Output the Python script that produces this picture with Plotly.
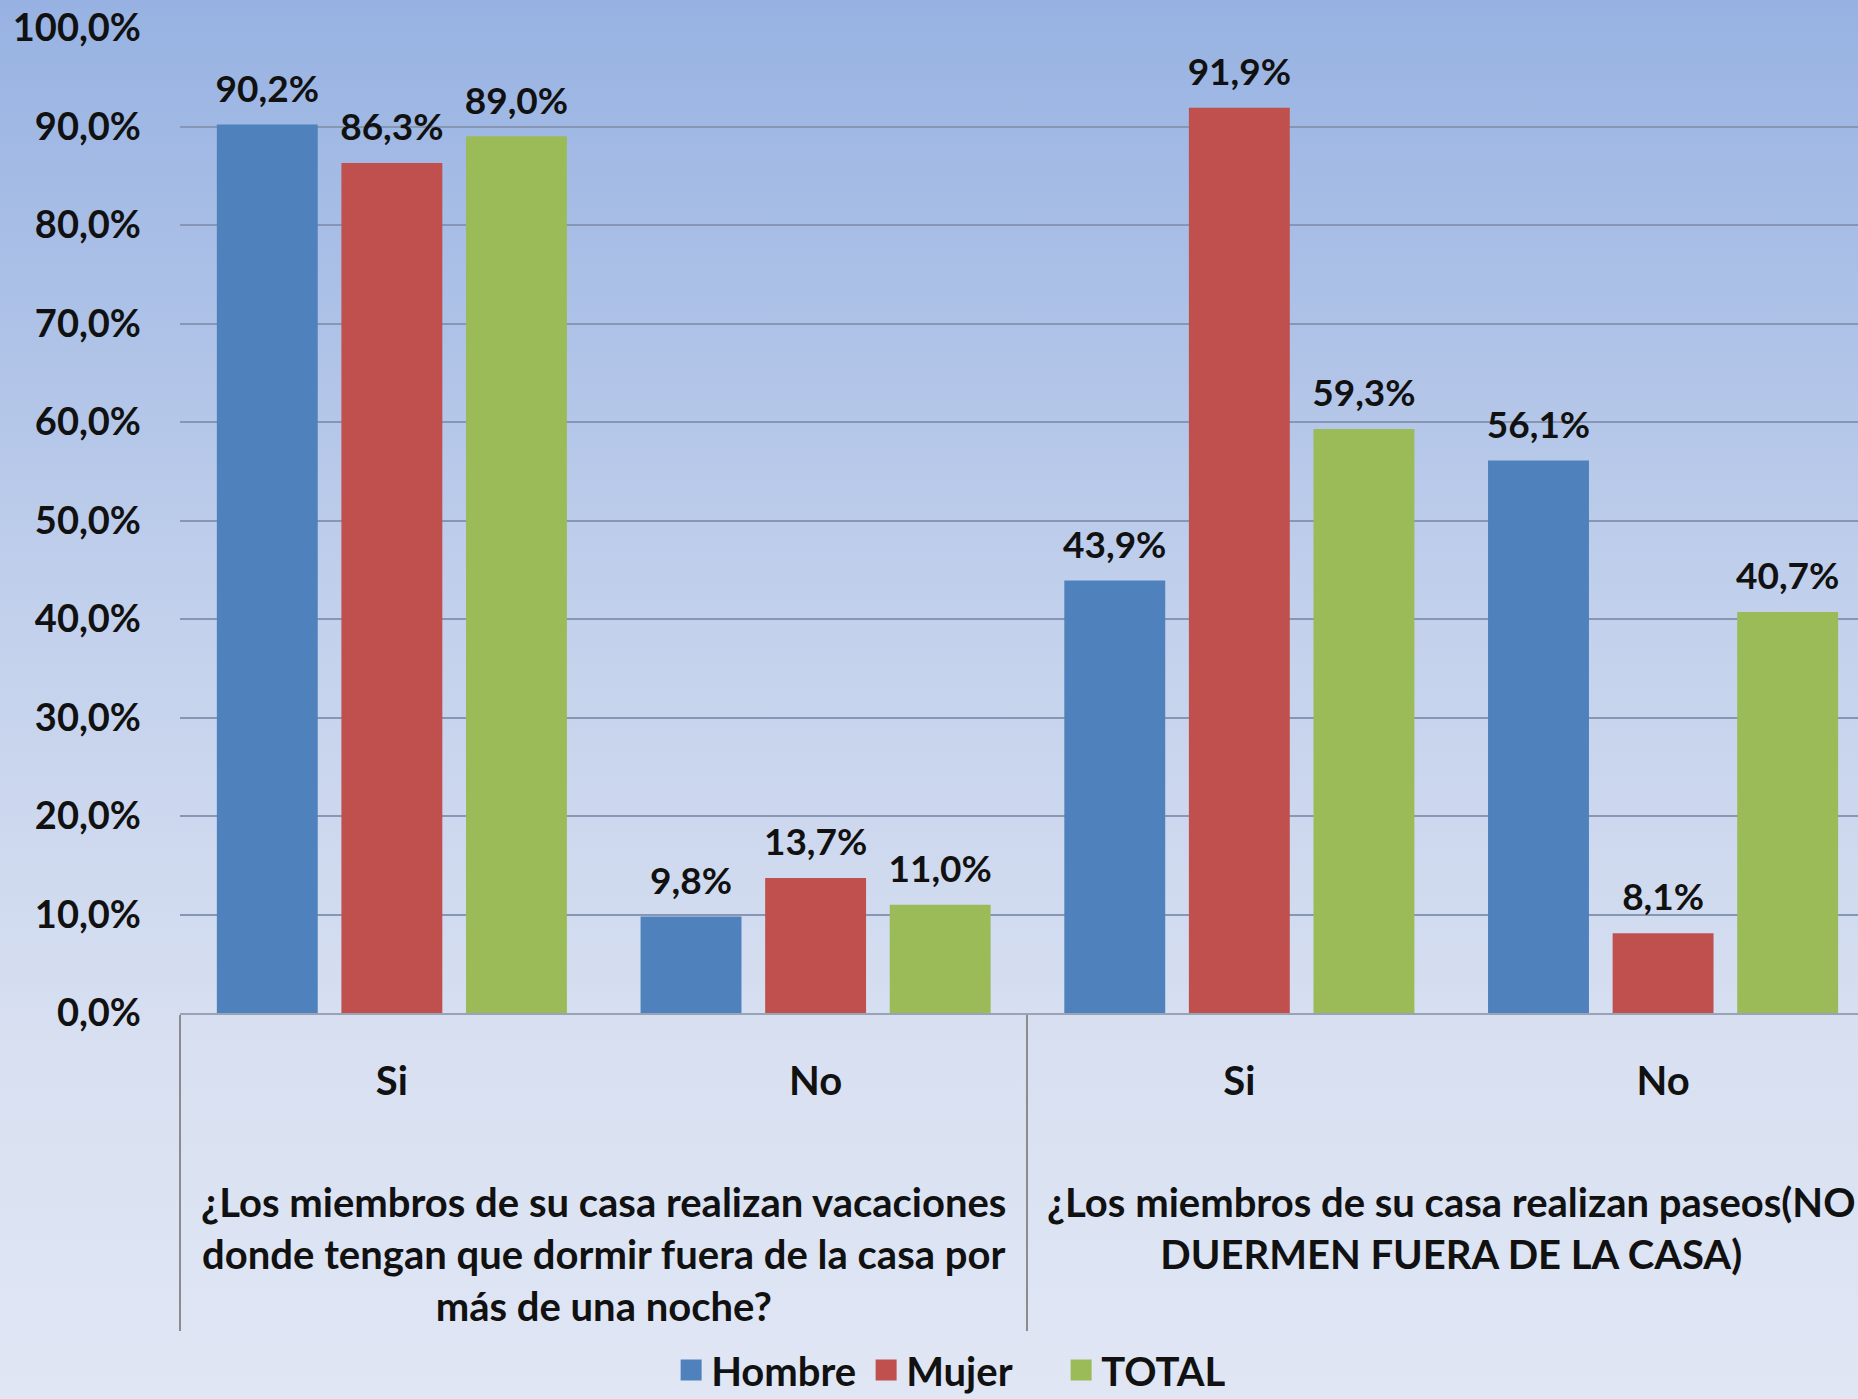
import base64
import plotly.graph_objects as go

questions = [
    "¿Los miembros de su casa realizan vacaciones<br>donde tengan que dormir fuera de la casa por<br>más de una noche?",
    "¿Los miembros de su casa realizan paseos(NO<br>DUERMEN FUERA DE LA CASA)",
]
answers = ["Si", "No"]
series_names = ["Hombre", "Mujer", "TOTAL"]
hombre = [90.2, 9.8, 43.9, 56.1]
mujer = [86.3, 13.7, 91.9, 8.1]
total = [89.0, 11.0, 59.3, 40.7]
colors = ["#4f81bd", "#c0504d", "#9bbb59"]

BLANK = "\u2800"  # blank spacer lines between the two label levels
x_level0 = [BLANK + "<br>" + BLANK + "<br>" + q for q in questions for _ in answers]
x_level1 = [a for _ in questions for a in answers]

W, H = 1858, 1399
ML, MR, MT, MB = 180, 0, 28, 386
FONT = "Lato, 'Open Sans', sans-serif"
TXT = dict(family=FONT, size=37, color="#111111", weight=700)
XTXT = dict(family=FONT, size=40, color="#111111", weight=700)
YTXT = dict(family=FONT, size=38, color="#111111", weight=700)

fig = go.Figure()
for name, vals, col in zip(series_names, [hombre, mujer, total], colors):
    fig.add_trace(go.Bar(
        name=name, x=[x_level0, x_level1], y=vals, offsetgroup=name,
        marker=dict(color=col, line=dict(width=0)),
        showlegend=False, hoverinfo="y",
    ))
for name, vals, col in zip(series_names, [hombre, mujer, total], colors):
    # value labels above the bars
    fig.add_trace(go.Scatter(
        name=name, x=[x_level0, x_level1], y=vals, offsetgroup=name,
        mode="markers+text", texttemplate="%{y:.1f}%", textposition="top center",
        textfont=TXT, marker=dict(size=20, color="rgba(0,0,0,0)"),
        showlegend=False, hoverinfo="skip", cliponaxis=False,
    ))
for name, col in zip(series_names, colors):
    # legend entries
    fig.add_trace(go.Scatter(
        name=name, x=[x_level0, x_level1], y=[None] * len(x_level1), offsetgroup=name,
        mode="markers", marker=dict(symbol="square", size=24, color=col,
                                    line=dict(color=col, width=5)),
        showlegend=True, hoverinfo="skip",
    ))

svg = ('<svg xmlns="http://www.w3.org/2000/svg" width="10" height="1000" preserveAspectRatio="none">'
       '<defs><linearGradient id="g" x1="0" y1="0" x2="0" y2="1">'
       '<stop offset="0" stop-color="#97b2e2"/>'
       '<stop offset="0.45" stop-color="#c3d1ec"/>'
       '<stop offset="0.75" stop-color="#d8e0f1"/>'
       '<stop offset="1" stop-color="#e0e6f4"/>'
       '</linearGradient></defs><rect width="10" height="1000" fill="url(#g)"/></svg>')
src = "data:image/svg+xml;base64," + base64.b64encode(svg.encode()).decode()
pw, ph = W - ML - MR, H - MT - MB

fig.update_layout(
    width=W, height=H,
    margin=dict(l=ML, r=MR, t=MT, b=MB, pad=0, autoexpand=False),
    separators=",.",
    paper_bgcolor="#e2e8f4",
    plot_bgcolor="rgba(0,0,0,0)",
    barmode="group", bargap=0.118, bargroupgap=0.19,
    scattermode="group", scattergap=0.118,
    font=TXT,
    showlegend=True,
    legend=dict(orientation="h", x=0.467, xanchor="center",
                yref="container", y=(H - 1370) / H, yanchor="middle",
                font=XTXT, bgcolor="rgba(0,0,0,0)", itemwidth=30, traceorder="normal",
                itemsizing="trace", entrywidth=150, entrywidthmode="pixels"),
    images=[dict(source=src, xref="paper", yref="paper",
                 x=-ML / pw, y=1 + MT / ph, sizex=W / pw, sizey=H / ph,
                 xanchor="left", yanchor="top", sizing="stretch", layer="below")],
    xaxis=dict(
        type="multicategory", range=[-0.5, 3.46],
        showline=True, linecolor="#9aa3b5", linewidth=2,
        showdividers=True, dividercolor="#8c8c8c", dividerwidth=1.5,
        tickfont=XTXT, ticks="", showgrid=False, ticklabelstandoff=32,
    ),
    yaxis=dict(
        range=[0, 100], dtick=10, tickformat=".1f", ticksuffix="%",
        showgrid=True, gridcolor="#8796b4", gridwidth=2,
        zeroline=False, showline=False, ticks="",
        ticklabelstandoff=38, tickfont=YTXT,
    ),
)

fig.write_html("out.html", config={"displayModeBar": False},
               post_script="document.body.style.margin='0';")
